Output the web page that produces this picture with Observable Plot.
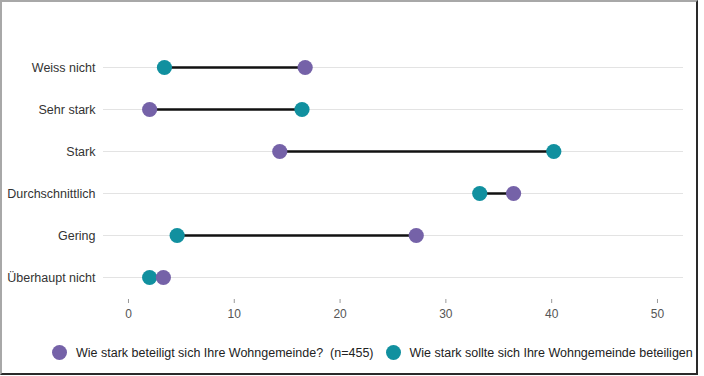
<!DOCTYPE html>
<html>
<head>
<meta charset="utf-8">
<script src="https://cdn.jsdelivr.net/npm/d3@7"></script>
<script src="https://cdn.jsdelivr.net/npm/@observablehq/plot@0.6"></script>
<style>
  html, body { margin: 0; padding: 0; background: #fff; }
  body { width: 704px; height: 376px; position: relative; overflow: hidden; font-family: "Liberation Sans", Arial, Helvetica, sans-serif; }
  #chart { position: absolute; left: 0; top: 0; width: 704px; }
  #chart svg { max-width: none; }
  #legwrap { position: absolute; left: 0; top: 340px; width: 696px; height: 28px; overflow: hidden; }
  #frame { position: absolute; left: 0; top: 0; width: 698px; height: 375px; box-sizing: border-box;
           border-left: 2px solid #a8a8a8; border-top: 2px solid #a8a8a8;
           border-right: 2px solid #2a2a2a; border-bottom: 2px solid #2a2a2a; pointer-events: none; }
  #legend { position: absolute; left: 52px; top: 5px; display: flex; align-items: center; white-space: pre; font-size: 12.5px; color: #222; }
  .sw { width: 15px; height: 15px; border-radius: 50%; flex: none; }
</style>
</head>
<body>
<div id="chart"></div>
<div id="legwrap"><div id="legend"></div></div>
<div id="frame"></div>
<script>
const categories = ["Weiss nicht", "Sehr stark", "Stark", "Durchschnittlich", "Gering", "Überhaupt nicht"];
const actual = [16.7, 2.0, 14.3, 36.4, 27.2, 3.3];   // Wie stark beteiligt sich Ihre Wohngemeinde?
const desired = [3.4, 16.4, 40.2, 33.2, 4.6, 2.0];  // Wie stark sollte sich Ihre Wohngemeinde beteiligen
const xTicks = [0, 10, 20, 30, 40, 50];
const seriesNames = ["Wie stark beteiligt sich Ihre Wohngemeinde?  (n=455)", "Wie stark sollte sich Ihre Wohngemeinde beteiligen"];
const seriesColors = ["#7562a8", "#11909f"];

const rows = categories.map((c, i) => ({cat: c, actual: actual[i], desired: desired[i]}));

const chart = Plot.plot({
  width: 704,
  height: 329,
  marginLeft: 103,
  marginRight: 21,
  marginTop: 45,
  marginBottom: 30,
  style: { fontFamily: "'Liberation Sans', Arial, Helvetica, sans-serif", fontSize: "12.5px", color: "#333", background: "transparent", maxWidth: "none" },
  x: { domain: [-2.36, 52.46], label: null },
  y: { type: "point", domain: categories, label: null },
  marks: [
    Plot.ruleY(categories, { y: d => d, stroke: "#e3e3e3", strokeWidth: 1 }),
    Plot.axisY({ tickSize: 0, tickPadding: 8, fill: "#333", fontSize: 12.5, label: null }),
    Plot.axisX({ ticks: xTicks, tickSize: 4, tickPadding: 6, stroke: "#999", fill: "#555", fontSize: 12, label: null }),
    Plot.link(rows, { x1: "actual", x2: "desired", y1: "cat", y2: "cat", stroke: "#111", strokeWidth: 2.3 }),
    Plot.dot(rows, { x: "desired", y: "cat", r: 7.6, fill: seriesColors[1], stroke: "none" }),
    Plot.dot(rows, { x: "actual", y: "cat", r: 7.6, fill: seriesColors[0], stroke: "none" })
  ]
});
document.getElementById("chart").appendChild(chart);

const legend = document.getElementById("legend");
seriesNames.forEach((name, i) => {
  const sw = document.createElement("span");
  sw.className = "sw";
  sw.style.background = seriesColors[i];
  sw.style.marginLeft = i === 0 ? "0px" : "12px";
  sw.style.marginRight = "9px";
  const t = document.createElement("span");
  t.textContent = name;
  legend.appendChild(sw);
  legend.appendChild(t);
});
</script>
</body>
</html>
